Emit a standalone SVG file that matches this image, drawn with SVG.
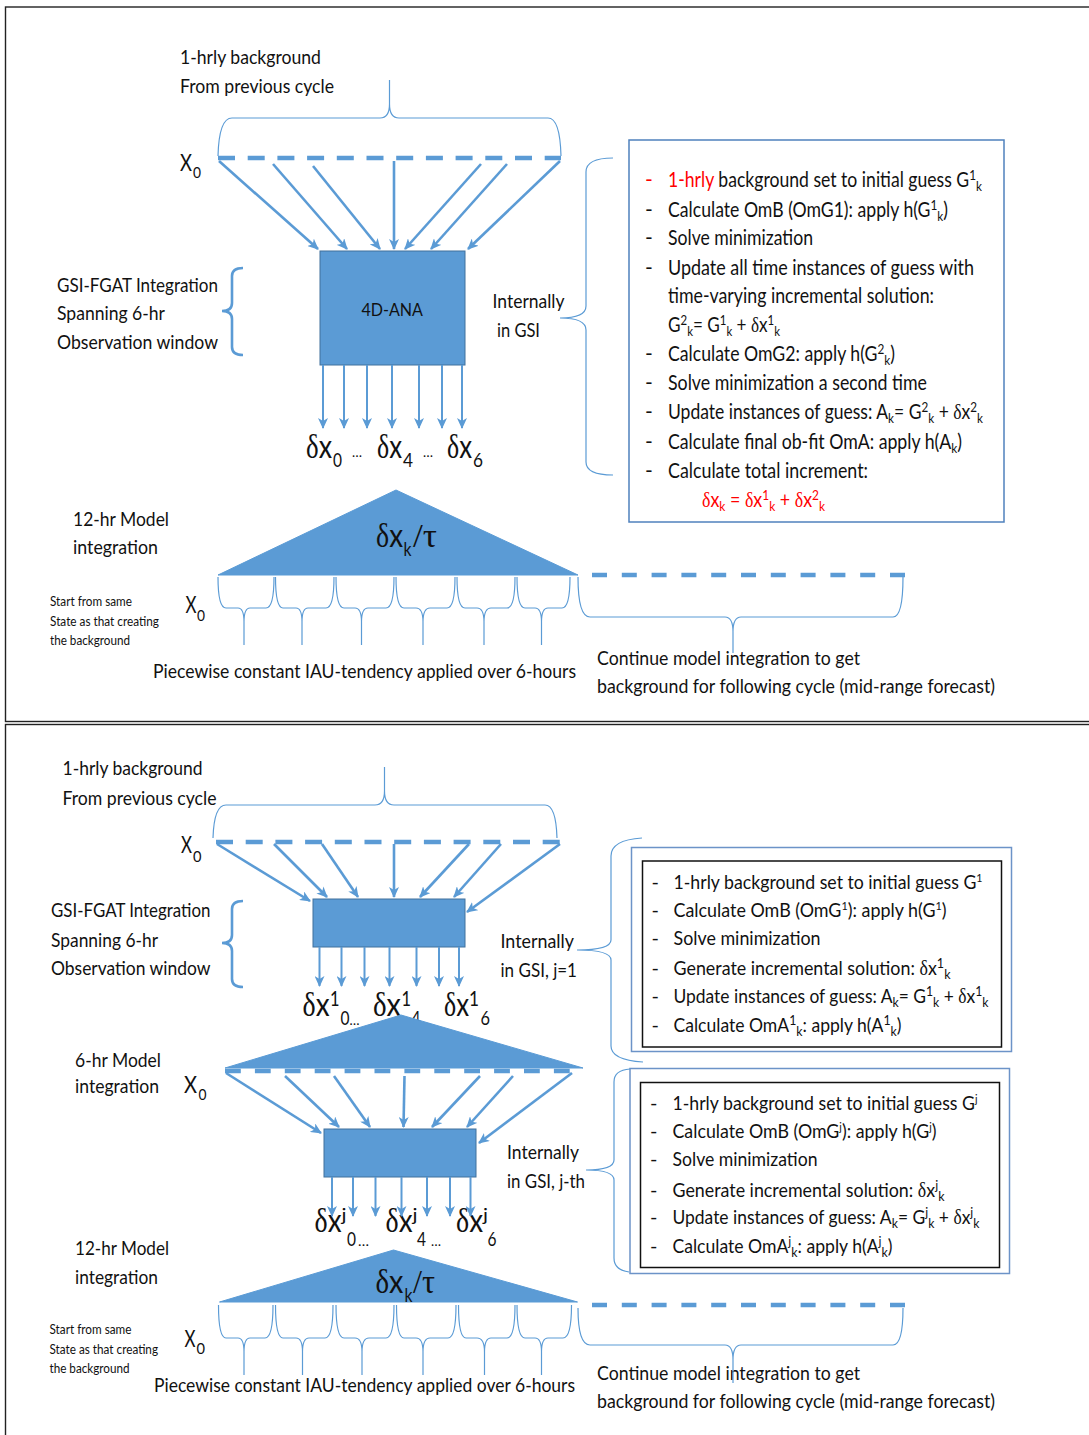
<svg xmlns="http://www.w3.org/2000/svg" width="1089" height="1435" viewBox="0 0 1089 1435">
<defs>
<marker id="ah" viewBox="0 0 11 10" refX="10" refY="5" markerWidth="11" markerHeight="10" markerUnits="userSpaceOnUse" orient="auto"><path d="M0,0 L11,5 L0,10 L3,5 z" fill="#5B9BD5"/></marker>
</defs>
<style>
text{font-family:Lato,"Liberation Sans",sans-serif;fill:#111}
.g{font-family:"Liberation Serif","DejaVu Serif",serif}
.l{font-size:19px}
.bt{font-size:21px}
.bb{font-size:20px}
.sm{font-size:12.5px}
.sp{font-size:14px}
.sp2{font-size:12px}
.dx{font-size:33px}
.dn{font-size:19px}
.el{font-size:14px}
.xx{font-size:24px}
.x0{font-size:16px}
.red{fill:#FF0000}
.box{fill:#5B9BD5;stroke:#41719C;stroke-width:1}
.tri{fill:#5B9BD5;stroke:#5B9BD5;stroke-width:1}
.arr{stroke:#5B9BD5;fill:none;marker-end:url(#ah)}
.a3{stroke-width:2.6}
.a2{stroke-width:2}
.br{fill:none;stroke:#5B9BD5;stroke-width:1.2}
.brk{fill:none;stroke:#5B9BD5;stroke-width:2.6}
.dash{stroke:#5B9BD5;stroke-width:4.5;fill:none}
.frame{fill:none;stroke:#222;stroke-width:1.4}
.tb{fill:#fff;stroke:#4F81BD;stroke-width:1.5}
.ob{fill:#fff;stroke:#6C93C8;stroke-width:1.5}
.ib{fill:none;stroke:#111;stroke-width:1.5}
</style>

<g id="frames">
<rect class="frame" x="5.5" y="7" width="1100" height="714.5"/>
<rect class="frame" x="5.5" y="724.5" width="1100" height="730"/>
</g>

<!-- ============ TOP PANEL ============ -->
<g id="top-background-label">
<text class="l" x="180" y="64" textLength="141" lengthAdjust="spacingAndGlyphs">1-hrly background</text>
<text class="l" x="180" y="93" textLength="154" lengthAdjust="spacingAndGlyphs">From previous cycle</text>
</g>
<g id="top-x0">
<text class="xx" x="180" y="171" textLength="12" lengthAdjust="spacingAndGlyphs">X</text>
<text class="x0" x="193" y="178" textLength="8" lengthAdjust="spacingAndGlyphs">0</text>
</g>
<g id="top-gsi-label">
<text class="l" x="57" y="292" textLength="161" lengthAdjust="spacingAndGlyphs">GSI-FGAT Integration</text>
<text class="l" x="57" y="320" textLength="108" lengthAdjust="spacingAndGlyphs">Spanning 6-hr</text>
<text class="l" x="57" y="349" textLength="161" lengthAdjust="spacingAndGlyphs">Observation window</text>
</g>
<g id="top-4dana">
<rect class="box" x="320" y="251" width="145" height="114"/>
<text x="361.5" y="316" style="font-size:17px" textLength="61.5" lengthAdjust="spacingAndGlyphs">4D-ANA</text>
</g>
<g id="top-internally">
<text class="l" x="492.5" y="308" textLength="72" lengthAdjust="spacingAndGlyphs">Internally</text>
<text class="l" x="497" y="337" textLength="43" lengthAdjust="spacingAndGlyphs">in GSI</text>
</g>
<g id="top-increments">
<text class="dx" x="306" y="458" textLength="26" lengthAdjust="spacingAndGlyphs"><tspan class="g">δ</tspan>x</text>
<text class="dn" x="333" y="467" textLength="9" lengthAdjust="spacingAndGlyphs">0</text>
<text class="el" x="352" y="457" textLength="10" lengthAdjust="spacingAndGlyphs">…</text>
<text class="dx" x="377" y="458" textLength="25" lengthAdjust="spacingAndGlyphs"><tspan class="g">δ</tspan>x</text>
<text class="dn" x="403" y="467" textLength="10" lengthAdjust="spacingAndGlyphs">4</text>
<text class="el" x="423" y="457" textLength="10" lengthAdjust="spacingAndGlyphs">…</text>
<text class="dx" x="447" y="458" textLength="25" lengthAdjust="spacingAndGlyphs"><tspan class="g">δ</tspan>x</text>
<text class="dn" x="473" y="467" textLength="10" lengthAdjust="spacingAndGlyphs">6</text>
</g>
<g id="top-steps-box">
<rect class="tb" x="629" y="140" width="375" height="382"/>
<text class="bt red" x="645" y="187">-</text>
<text class="bt" x="645" y="217">-</text>
<text class="bt" x="645" y="245">-</text>
<text class="bt" x="645" y="275">-</text>
<text class="bt" x="645" y="361">-</text>
<text class="bt" x="645" y="390">-</text>
<text class="bt" x="645" y="419">-</text>
<text class="bt" x="645" y="449">-</text>
<text class="bt" x="645" y="478">-</text>
<text class="bt" x="668" y="187" textLength="314" lengthAdjust="spacingAndGlyphs"><tspan class="red">1-hrly</tspan> background set to initial guess G<tspan class="sp" dy="-7">1</tspan><tspan class="sp" dy="11">k</tspan></text>
<text class="bt" x="668" y="217" textLength="280" lengthAdjust="spacingAndGlyphs">Calculate OmB (OmG1): apply h(G<tspan class="sp" dy="-7">1</tspan><tspan class="sp" dy="11">k</tspan><tspan dy="-4">)</tspan></text>
<text class="bt" x="668" y="245" textLength="145" lengthAdjust="spacingAndGlyphs">Solve minimization</text>
<text class="bt" x="668" y="275" textLength="306" lengthAdjust="spacingAndGlyphs">Update all time instances of guess  with</text>
<text class="bt" x="668" y="303" textLength="266" lengthAdjust="spacingAndGlyphs">time-varying incremental solution:</text>
<text class="bt" x="668" y="332" textLength="112" lengthAdjust="spacingAndGlyphs">G<tspan class="sp" dy="-7">2</tspan><tspan class="sp" dy="11">k</tspan><tspan dy="-4">= G</tspan><tspan class="sp" dy="-7">1</tspan><tspan class="sp" dy="11">k</tspan><tspan dy="-4"> + </tspan><tspan class="g">δ</tspan>x<tspan class="sp" dy="-7">1</tspan><tspan class="sp" dy="11">k</tspan></text>
<text class="bt" x="668" y="361" textLength="227" lengthAdjust="spacingAndGlyphs">Calculate OmG2: apply h(G<tspan class="sp" dy="-7">2</tspan><tspan class="sp" dy="11">k</tspan><tspan dy="-4">)</tspan></text>
<text class="bt" x="668" y="390" textLength="259" lengthAdjust="spacingAndGlyphs">Solve minimization a second time</text>
<text class="bt" x="668" y="419" textLength="315" lengthAdjust="spacingAndGlyphs">Update instances of guess: A<tspan class="sp" dy="4">k</tspan><tspan dy="-4">= G</tspan><tspan class="sp" dy="-7">2</tspan><tspan class="sp" dy="11">k</tspan><tspan dy="-4"> + </tspan><tspan class="g">δ</tspan>x<tspan class="sp" dy="-7">2</tspan><tspan class="sp" dy="11">k</tspan></text>
<text class="bt" x="668" y="449" textLength="294" lengthAdjust="spacingAndGlyphs">Calculate final ob-fit OmA: apply h(A<tspan class="sp" dy="4">k</tspan><tspan dy="-4">)</tspan></text>
<text class="bt" x="668" y="478" textLength="200" lengthAdjust="spacingAndGlyphs">Calculate total increment:</text>
<text class="bt red" x="702" y="507" textLength="123" lengthAdjust="spacingAndGlyphs"><tspan class="g">δ</tspan>x<tspan class="sp" dy="4">k</tspan><tspan dy="-4"> = </tspan><tspan class="g">δ</tspan>x<tspan class="sp" dy="-7">1</tspan><tspan class="sp" dy="11">k</tspan><tspan dy="-4">  + </tspan><tspan class="g">δ</tspan>x<tspan class="sp" dy="-7">2</tspan><tspan class="sp" dy="11">k</tspan></text>
</g>
<g id="top-model-label">
<text class="l" x="73" y="526" textLength="96" lengthAdjust="spacingAndGlyphs">12-hr Model</text>
<text class="l" x="73" y="554" textLength="85" lengthAdjust="spacingAndGlyphs">integration</text>
</g>
<g id="top-triangle">
<polygon class="tri" points="218,575 396,490 578,575"/>
<text class="dx" x="376" y="547" textLength="27" lengthAdjust="spacingAndGlyphs"><tspan class="g">δ</tspan>x</text>
<text class="dn" x="403.5" y="556" textLength="8" lengthAdjust="spacingAndGlyphs">k</text>
<text class="dx g" x="413" y="547" textLength="24" lengthAdjust="spacingAndGlyphs">/τ</text>
</g>
<g id="top-start-label">
<text class="sm" x="50" y="606" textLength="82" lengthAdjust="spacingAndGlyphs">Start from same</text>
<text class="sm" x="50" y="626" textLength="109" lengthAdjust="spacingAndGlyphs">State as that creating</text>
<text class="sm" x="50" y="645" textLength="80" lengthAdjust="spacingAndGlyphs">the background</text>
</g>
<g id="top-x0-lower">
<text class="xx" x="185.5" y="613" textLength="11" lengthAdjust="spacingAndGlyphs">X</text>
<text class="x0" x="197" y="621" textLength="8" lengthAdjust="spacingAndGlyphs">0</text>
</g>
<g id="top-iau-label">
<text class="l" x="153" y="678" textLength="423" lengthAdjust="spacingAndGlyphs">Piecewise constant IAU-tendency applied over 6-hours</text>
</g>
<g id="top-continue-label">
<text class="l" x="597" y="665" textLength="263" lengthAdjust="spacingAndGlyphs">Continue model integration to get</text>
<text class="l" x="597" y="693" textLength="398" lengthAdjust="spacingAndGlyphs">background for following cycle (mid-range forecast)</text>
</g>

<!-- ============ BOTTOM PANEL ============ -->
<g id="bot-background-label">
<text class="l" x="62.5" y="775" textLength="140" lengthAdjust="spacingAndGlyphs">1-hrly background</text>
<text class="l" x="62.5" y="805" textLength="154" lengthAdjust="spacingAndGlyphs">From previous cycle</text>
</g>
<g id="bot-x0">
<text class="xx" x="181" y="853" textLength="11" lengthAdjust="spacingAndGlyphs">X</text>
<text class="x0" x="193" y="861.5" textLength="8.5" lengthAdjust="spacingAndGlyphs">0</text>
</g>
<g id="bot-gsi-label">
<text class="l" x="51" y="917" textLength="159.5" lengthAdjust="spacingAndGlyphs">GSI-FGAT Integration</text>
<text class="l" x="51" y="947" textLength="107" lengthAdjust="spacingAndGlyphs">Spanning 6-hr</text>
<text class="l" x="51" y="975" textLength="159.5" lengthAdjust="spacingAndGlyphs">Observation window</text>
</g>
<g id="bot-ana-1">
<rect class="box" x="313" y="899" width="152" height="48"/>
</g>
<g id="bot-internally-1">
<text class="l" x="500.5" y="948" textLength="73.5" lengthAdjust="spacingAndGlyphs">Internally</text>
<text class="l" x="500.5" y="977" textLength="76.5" lengthAdjust="spacingAndGlyphs">in GSI, j=1</text>
</g>
<g id="bot-increments-1">
<text class="dx" x="302.5" y="1016" textLength="27" lengthAdjust="spacingAndGlyphs"><tspan class="g">δ</tspan>x</text>
<text class="dn" x="330" y="1006" style="font-size:21px" textLength="9.5" lengthAdjust="spacingAndGlyphs">1</text>
<text class="dn" x="340.5" y="1025" textLength="9" lengthAdjust="spacingAndGlyphs">0</text>
<text class="el" x="349.5" y="1025" textLength="10" lengthAdjust="spacingAndGlyphs">…</text>
<text class="dx" x="373" y="1016" textLength="28" lengthAdjust="spacingAndGlyphs"><tspan class="g">δ</tspan>x</text>
<text class="dn" x="401.5" y="1006" style="font-size:21px" textLength="9.5" lengthAdjust="spacingAndGlyphs">1</text>
<text class="dn" x="411.5" y="1025" textLength="9" lengthAdjust="spacingAndGlyphs">4</text>
<text class="el" x="420.5" y="1025" textLength="10" lengthAdjust="spacingAndGlyphs">…</text>
<text class="dx" x="444" y="1016" textLength="25" lengthAdjust="spacingAndGlyphs"><tspan class="g">δ</tspan>x</text>
<text class="dn" x="469" y="1006" style="font-size:21px" textLength="10" lengthAdjust="spacingAndGlyphs">1</text>
<text class="dn" x="480.5" y="1025" textLength="9.5" lengthAdjust="spacingAndGlyphs">6</text>
</g>
<g id="bot-steps-box-1">
<rect class="ob" x="631.5" y="847.5" width="380" height="204"/>
<rect class="ib" x="642.5" y="861" width="359" height="186"/>
<text class="bb" x="651.5" y="889">-</text>
<text class="bb" x="651.5" y="917">-</text>
<text class="bb" x="651.5" y="945">-</text>
<text class="bb" x="651.5" y="975">-</text>
<text class="bb" x="651.5" y="1003">-</text>
<text class="bb" x="651.5" y="1032">-</text>
<text class="bb" x="673.5" y="889" textLength="309" lengthAdjust="spacingAndGlyphs">1-hrly background set to initial guess G<tspan class="sp2" dy="-7">1</tspan></text>
<text class="bb" x="673.5" y="917" textLength="273" lengthAdjust="spacingAndGlyphs">Calculate OmB (OmG<tspan class="sp2" dy="-7">1</tspan><tspan dy="7">): apply h(G</tspan><tspan class="sp2" dy="-7">1</tspan><tspan dy="7">)</tspan></text>
<text class="bb" x="673.5" y="945" textLength="147" lengthAdjust="spacingAndGlyphs">Solve minimization</text>
<text class="bb" x="673.5" y="975" textLength="277" lengthAdjust="spacingAndGlyphs">Generate incremental solution: <tspan class="g">δ</tspan>x<tspan class="sp" dy="-7">1</tspan><tspan class="sp" dy="11">k</tspan></text>
<text class="bb" x="673.5" y="1003" textLength="315" lengthAdjust="spacingAndGlyphs">Update instances of guess: A<tspan class="sp" dy="4">k</tspan><tspan dy="-4">= G</tspan><tspan class="sp" dy="-7">1</tspan><tspan class="sp" dy="11">k</tspan><tspan dy="-4"> + </tspan><tspan class="g">δ</tspan>x<tspan class="sp" dy="-7">1</tspan><tspan class="sp" dy="11">k</tspan></text>
<text class="bb" x="673.5" y="1032" textLength="228" lengthAdjust="spacingAndGlyphs">Calculate OmA<tspan class="sp" dy="-7">1</tspan><tspan class="sp" dy="11">k</tspan><tspan dy="-4">: apply h(A</tspan><tspan class="sp" dy="-7">1</tspan><tspan class="sp" dy="11">k</tspan><tspan dy="-4">)</tspan></text>
</g>
<g id="bot-6hr-label">
<text class="l" x="75" y="1067" textLength="86" lengthAdjust="spacingAndGlyphs">6-hr Model</text>
<text class="l" x="75" y="1093" textLength="84" lengthAdjust="spacingAndGlyphs">integration</text>
</g>
<g id="bot-x0-6hr">
<text class="xx" x="184" y="1093" textLength="13" lengthAdjust="spacingAndGlyphs">X</text>
<text class="x0" x="198.5" y="1100" textLength="8" lengthAdjust="spacingAndGlyphs">0</text>
</g>
<g id="bot-triangle-6hr">
<polygon class="tri" points="225,1068 401,1015 583,1068"/>
</g>
<g id="bot-ana-j">
<rect class="box" x="324" y="1129" width="152" height="48"/>
</g>
<g id="bot-internally-j">
<text class="l" x="507" y="1159" textLength="72" lengthAdjust="spacingAndGlyphs">Internally</text>
<text class="l" x="507" y="1188" textLength="78" lengthAdjust="spacingAndGlyphs">in GSI, j-th</text>
</g>
<g id="bot-increments-j">
<text class="dx" x="314.5" y="1232" textLength="27" lengthAdjust="spacingAndGlyphs"><tspan class="g">δ</tspan>x</text>
<text x="341.5" y="1221" style="font-size:18px" textLength="5" lengthAdjust="spacingAndGlyphs">j</text>
<text class="dn" x="347" y="1246" textLength="9" lengthAdjust="spacingAndGlyphs">0</text>
<text class="el" x="358" y="1246" textLength="11" lengthAdjust="spacingAndGlyphs">…</text>
<text class="dx" x="385.5" y="1232" textLength="27" lengthAdjust="spacingAndGlyphs"><tspan class="g">δ</tspan>x</text>
<text x="412.5" y="1221" style="font-size:18px" textLength="5" lengthAdjust="spacingAndGlyphs">j</text>
<text class="dn" x="417" y="1246" textLength="9" lengthAdjust="spacingAndGlyphs">4</text>
<text class="el" x="431" y="1246" textLength="10" lengthAdjust="spacingAndGlyphs">…</text>
<text class="dx" x="456" y="1232" textLength="27" lengthAdjust="spacingAndGlyphs"><tspan class="g">δ</tspan>x</text>
<text x="483" y="1221" style="font-size:18px" textLength="5" lengthAdjust="spacingAndGlyphs">j</text>
<text class="dn" x="487.5" y="1246" textLength="9" lengthAdjust="spacingAndGlyphs">6</text>
</g>
<g id="bot-steps-box-j">
<rect class="ob" x="630" y="1068.5" width="379.5" height="205"/>
<rect class="ib" x="640.5" y="1082.5" width="359" height="185"/>
<text class="bb" x="650" y="1110">-</text>
<text class="bb" x="650" y="1138">-</text>
<text class="bb" x="650" y="1166">-</text>
<text class="bb" x="650" y="1197">-</text>
<text class="bb" x="650" y="1224">-</text>
<text class="bb" x="650" y="1253">-</text>
<text class="bb" x="672.5" y="1110" textLength="305" lengthAdjust="spacingAndGlyphs">1-hrly background set to initial guess G<tspan class="sp2" dy="-7">j</tspan></text>
<text class="bb" x="672.5" y="1138" textLength="264" lengthAdjust="spacingAndGlyphs">Calculate OmB (OmG<tspan class="sp2" dy="-7">j</tspan><tspan dy="7">): apply h(G</tspan><tspan class="sp2" dy="-7">j</tspan><tspan dy="7">)</tspan></text>
<text class="bb" x="672.5" y="1166" textLength="145" lengthAdjust="spacingAndGlyphs">Solve minimization</text>
<text class="bb" x="672.5" y="1197" textLength="272" lengthAdjust="spacingAndGlyphs">Generate incremental solution: <tspan class="g">δ</tspan>x<tspan class="sp" dy="-7">j</tspan><tspan class="sp" dy="11">k</tspan></text>
<text class="bb" x="672.5" y="1224" textLength="307" lengthAdjust="spacingAndGlyphs">Update instances of guess: A<tspan class="sp" dy="4">k</tspan><tspan dy="-4">= G</tspan><tspan class="sp" dy="-7">j</tspan><tspan class="sp" dy="11">k</tspan><tspan dy="-4"> + </tspan><tspan class="g">δ</tspan>x<tspan class="sp" dy="-7">j</tspan><tspan class="sp" dy="11">k</tspan></text>
<text class="bb" x="672.5" y="1253" textLength="220" lengthAdjust="spacingAndGlyphs">Calculate OmA<tspan class="sp" dy="-7">j</tspan><tspan class="sp" dy="11">k</tspan><tspan dy="-4">: apply h(A</tspan><tspan class="sp" dy="-7">j</tspan><tspan class="sp" dy="11">k</tspan><tspan dy="-4">)</tspan></text>
</g>
<g id="bot-12hr-label">
<text class="l" x="75" y="1255" textLength="94" lengthAdjust="spacingAndGlyphs">12-hr Model</text>
<text class="l" x="75" y="1284" textLength="83" lengthAdjust="spacingAndGlyphs">integration</text>
</g>
<g id="bot-triangle-12hr">
<polygon class="tri" points="219.5,1302 393.5,1250 577.5,1302"/>
<text class="dx" x="375.5" y="1293" textLength="28" lengthAdjust="spacingAndGlyphs"><tspan class="g">δ</tspan>x</text>
<text class="dn" x="404.5" y="1302" textLength="8" lengthAdjust="spacingAndGlyphs">k</text>
<text class="dx g" x="413" y="1293" textLength="22" lengthAdjust="spacingAndGlyphs">/τ</text>
</g>
<g id="bot-start-label">
<text class="sm" x="49.5" y="1334" textLength="82" lengthAdjust="spacingAndGlyphs">Start from same</text>
<text class="sm" x="49.5" y="1354" textLength="108.5" lengthAdjust="spacingAndGlyphs">State as that creating</text>
<text class="sm" x="49.5" y="1373" textLength="80" lengthAdjust="spacingAndGlyphs">the background</text>
</g>
<g id="bot-x0-lower">
<text class="xx" x="184.5" y="1347" textLength="11" lengthAdjust="spacingAndGlyphs">X</text>
<text class="x0" x="196.5" y="1354" textLength="8.5" lengthAdjust="spacingAndGlyphs">0</text>
</g>
<g id="bot-iau-label">
<text class="l" x="154" y="1392" textLength="421" lengthAdjust="spacingAndGlyphs">Piecewise constant IAU-tendency applied over 6-hours</text>
</g>
<g id="bot-continue-label">
<text class="l" x="597" y="1380" textLength="263" lengthAdjust="spacingAndGlyphs">Continue model integration to get</text>
<text class="l" x="597" y="1408" textLength="398" lengthAdjust="spacingAndGlyphs">background for following cycle (mid-range forecast)</text>
</g>

<!-- ============ CONNECTORS ============ -->
<g id="connectors">
<path class="dash" d="M218,158 L561,158" stroke-dasharray="17 12.7"/>
<path class="arr a3" d="M219,161 L318,249"/>
<path class="arr a3" d="M273,164 L347,249"/>
<path class="arr a3" d="M313,166 L380,249"/>
<path class="arr a3" d="M394,161 L394,249"/>
<path class="arr a3" d="M481,164 L405,249"/>
<path class="arr a3" d="M507,164 L431,249"/>
<path class="arr a3" d="M560,161 L468,249"/>
<path class="arr a2" d="M323,365 V428"/>
<path class="arr a2" d="M344,365 V428"/>
<path class="arr a2" d="M367,365 V428"/>
<path class="arr a2" d="M392,365 V428"/>
<path class="arr a2" d="M419,365 V428"/>
<path class="arr a2" d="M442,365 V428"/>
<path class="arr a2" d="M462,365 V428"/>
<path class="dash" d="M592,575 L905,575" stroke-dasharray="15 14.8"/>
<path class="dash" d="M216,842 L561,842" stroke-dasharray="17 12.7"/>
<path class="arr a3" d="M217,844 L310,901"/>
<path class="arr a3" d="M274,844 L327,897"/>
<path class="arr a3" d="M322,844 L358,897"/>
<path class="arr a3" d="M394,844 L394,897"/>
<path class="arr a3" d="M469,844 L420,897"/>
<path class="arr a3" d="M501,844 L454,897"/>
<path class="arr a3" d="M560,844 L467,912"/>
<path class="arr a2" d="M319.5,947 V986"/>
<path class="arr a2" d="M341.5,947 V986"/>
<path class="arr a2" d="M364.5,947 V986"/>
<path class="arr a2" d="M389.5,947 V986"/>
<path class="arr a2" d="M416.5,947 V986"/>
<path class="arr a2" d="M439,947 V986"/>
<path class="arr a2" d="M459,947 V986"/>
<path class="dash" d="M225,1071 L573,1071" stroke-dasharray="15.8 14.1"/>
<path class="arr a3" d="M226,1073 L321,1133"/>
<path class="arr a3" d="M285,1076 L339,1127"/>
<path class="arr a3" d="M334,1076 L370,1127"/>
<path class="arr a3" d="M404.5,1076 L403.5,1127"/>
<path class="arr a3" d="M480,1076 L432,1127"/>
<path class="arr a3" d="M513,1076 L467,1127"/>
<path class="arr a3" d="M572,1073 L479,1143"/>
<path class="arr a2" d="M332,1177 V1216"/>
<path class="arr a2" d="M353,1177 V1216"/>
<path class="arr a2" d="M375.5,1177 V1216"/>
<path class="arr a2" d="M401.5,1177 V1216"/>
<path class="arr a2" d="M427,1177 V1216"/>
<path class="arr a2" d="M450,1177 V1216"/>
<path class="arr a2" d="M470.5,1177 V1216"/>
<path class="dash" d="M592,1305 L905,1305" stroke-dasharray="15 14.8"/>
</g>

<!-- ============ BRACES ============ -->
<g id="braces">
<path class="br" d="M218,156 Q219,118 232,118 L380,118 Q389.5,118 389.5,104 L389.5,80 L389.5,104 Q389.5,118 399,118 L548,118 Q560,118 561,156"/>
<path class="brk" d="M243,268 Q232,268 232,276 L232,303 Q232,311 222,311 Q232,311 232,319 L232,347 Q232,355 243,355"/>
<path class="br" d="M613,158 Q586,158 586,172 L586,306 Q586,318 560,318 Q586,318 586,330 L586,462 Q586,475 613,475"/>
<path class="br" d="M218,577 Q218,608 226,608 L238,608 Q244,608 244,622 L244,645 M244,622 Q244,608 250,608 L266,608 Q274,608 274,577"/>
<path class="br" d="M275.5,577 Q275.5,608 283,608 L296,608 Q302,608 302,622 L302,645 M302,622 Q302,608 308,608 L326,608 Q334,608 334,577"/>
<path class="br" d="M336,577 Q336,608 344,608 L355,608 Q361.5,608 361.5,622 L361.5,645 M361.5,622 Q361.5,608 368,608 L386,608 Q394,608 394,577"/>
<path class="br" d="M396,577 Q396,608 404,608 L416,608 Q423,608 423,622 L423,645 M423,622 Q423,608 430,608 L447,608 Q455,608 455,577"/>
<path class="br" d="M457,577 Q457,608 465,608 L477,608 Q484,608 484,622 L484,645 M484,622 Q484,608 491,608 L507,608 Q515,608 515,577"/>
<path class="br" d="M517,577 Q517,608 525,608 L535,608 Q541.5,608 541.5,622 L541.5,645 M541.5,622 Q541.5,608 548,608 L562,608 Q570,608 570,577"/>
<path class="br" d="M578,577 Q578,617 590,617 L725,617 Q733,617 733,632 L733,653 M733,632 Q733,617 741,617 L893,617 Q903,617 903,577"/>
<path class="br" d="M213,838 Q214,805 226,805 L375,805 Q384.5,805 384.5,791 L384.5,767 L384.5,791 Q384.5,805 394,805 L545,805 Q556,805 557,838"/>
<path class="brk" d="M243,901 Q232,901 232,909 L232,935 Q232,943 222,943 Q232,943 232,951 L232,979 Q232,987 243,987"/>
<path class="br" d="M642,838 Q611,840 611,856 L611,940 Q611,950 577,950 Q611,950 611,960 L611,1046 Q611,1060 643,1062"/>
<path class="br" d="M630,1069 Q614,1070 614,1082 L614,1160 Q614,1170 586,1170 Q614,1170 614,1180 L614,1258 Q614,1270 629,1272"/>
<path class="br" d="M218.5,1305 Q218.5,1338 226,1338 L238,1338 Q244,1338 244,1352 L244,1375 M244,1352 Q244,1338 250,1338 L265,1338 Q273,1338 273,1305"/>
<path class="br" d="M275.5,1305 Q275.5,1338 283,1338 L296,1338 Q302.5,1338 302.5,1352 L302.5,1375 M302.5,1352 Q302.5,1338 309,1338 L325,1338 Q333,1338 333,1305"/>
<path class="br" d="M336,1305 Q336,1338 344,1338 L355,1338 Q362,1338 362,1352 L362,1375 M362,1352 Q362,1338 369,1338 L386,1338 Q394,1338 394,1305"/>
<path class="br" d="M396.5,1305 Q396.5,1338 404,1338 L416,1338 Q423,1338 423,1352 L423,1375 M423,1352 Q423,1338 430,1338 L448,1338 Q456,1338 456,1305"/>
<path class="br" d="M458.5,1305 Q458.5,1338 466,1338 L477,1338 Q484.5,1338 484.5,1352 L484.5,1375 M484.5,1352 Q484.5,1338 491,1338 L507,1338 Q515,1338 515,1305"/>
<path class="br" d="M517,1305 Q517,1338 525,1338 L535,1338 Q541.5,1338 541.5,1352 L541.5,1375 M541.5,1352 Q541.5,1338 548,1338 L563,1338 Q571.5,1338 571.5,1305"/>
<path class="br" d="M578,1308 Q578,1345 590,1345 L725,1345 Q733,1345 733,1360 L733,1383 M733,1360 Q733,1345 741,1345 L893,1345 Q903,1345 903,1308"/>
</g>
</svg>
